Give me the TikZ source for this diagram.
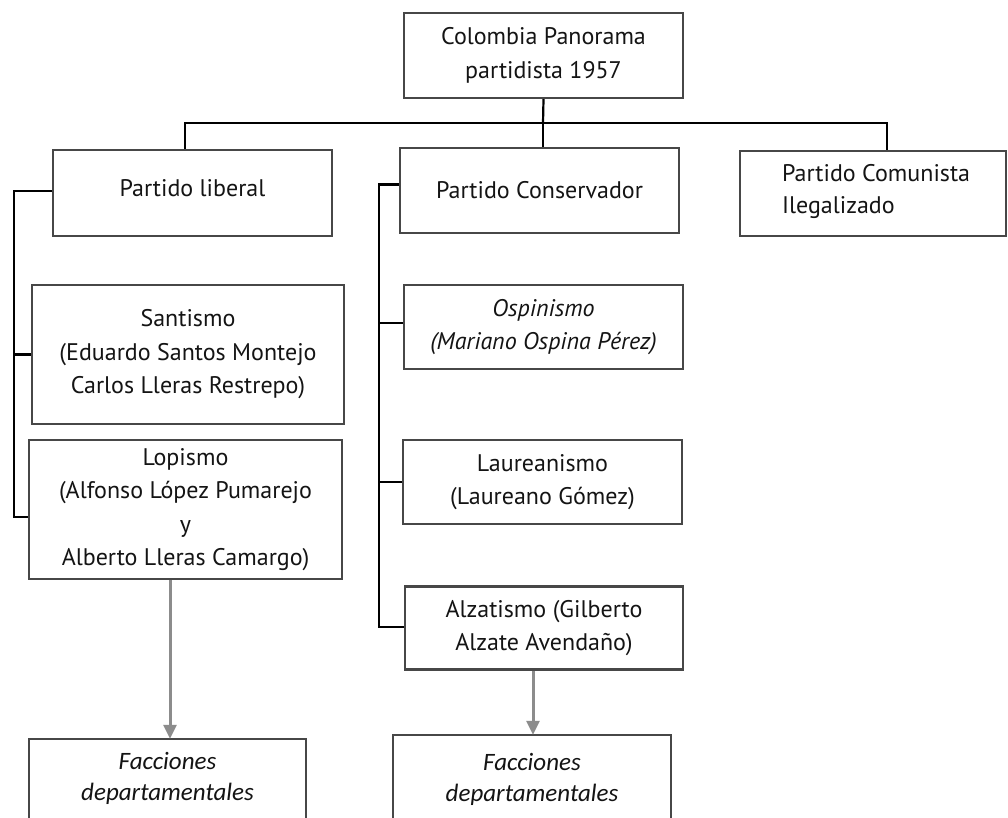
\documentclass[tikz,border=0pt]{standalone}
\usepackage{fontspec}
\setmainfont{PT Sans}
\newfontfamily\calfont{Carlito}
\usetikzlibrary{arrows.meta}
\begin{document}
\begin{tikzpicture}[x=1pt,y=-1pt,
  boxline/.style={draw=black!72, line width=2.2pt},
  box/.style={boxline, inner sep=0pt, align=center, text=black!92,
    font=\fontsize{24pt}{33.5pt}\selectfont},
  itbox/.style={box, font=\fontsize{24pt}{33.5pt}\selectfont\itshape},
  factext/.style={inner sep=0pt, align=center, text=black!92,
    font=\calfont\fontsize{25pt}{31pt}\selectfont\itshape},
  link/.style={line width=2.2pt, black},
  arr/.style={line width=3pt, black!45, -{Triangle[length=14pt,width=13pt]}}]
\useasboundingbox (0,0) rectangle (1008,818);
\fill[white] (0,0) rectangle (1008,818);

% boxes
\node[box, minimum width=279pt, minimum height=85pt] (top) at (543.5,55.5) {Colombia Panorama\\partidista 1957};
\node[box, minimum width=279pt, minimum height=86pt] (lib) at (192.5,193) {\raisebox{10pt}{Partido liberal}};
\node[box, minimum width=279pt, minimum height=85pt] (con) at (539.5,190.5) {Partido Conservador};
\node[box, minimum width=266pt, minimum height=85pt] (com) at (873,193.5) {};
\node[anchor=west, inner sep=0pt, align=left, text=black!92,
  font=\fontsize{24pt}{32pt}\selectfont] (comtxt) at ([xshift=43pt,yshift=2pt]com.west) {Partido Comunista\\Ilegalizado};

\node[box, minimum width=312pt, minimum height=139pt] (san) at (188,354.5) {Santismo\\(Eduardo Santos Montejo\\Carlos Lleras Restrepo)};
\node[box, minimum width=313pt, minimum height=139pt] (lop) at (185.5,509.5) {Lopismo\\(Alfonso López Pumarejo\\y\\Alberto Lleras Camargo)};

\node[itbox, minimum width=279pt, minimum height=84pt] (osp) at (543.5,327) {Ospinismo\\(Mariano Ospina Pérez)};
\node[box, minimum width=279pt, minimum height=84pt] (lau) at (542.5,482) {Laureanismo\\(Laureano Gómez)};
\node[box, minimum width=278pt, minimum height=83pt] (alz) at (544,628) {Alzatismo (Gilberto\\Alzate Avendaño)};

\node[factext, minimum width=277pt, minimum height=78pt] (fac1) at (167.5,778) {Facciones\\departamentales};
\node[factext, minimum width=278pt, minimum height=88pt] (fac2) at (532,779) {Facciones\\departamentales};
\draw[boxline] ([yshift=-30pt]fac1.south west) |- (fac1.north east) -- ([yshift=-30pt]fac1.south east);
\draw[boxline] ([yshift=-30pt]fac2.south west) |- (fac2.north east) -- ([yshift=-30pt]fac2.south east);

% top tree
\coordinate (hub) at (543,123);
\coordinate (hL) at (185,123);
\coordinate (hR) at (887,123);
\draw[link] (top.south) -- (hub);
\draw[link] (hL |- lib.north) -- (hL) -- (hR) -- (hR |- com.north);
\draw[link] (hub) -- (hub |- con.north);

% liberal bracket
\coordinate (bl) at (14,0);
\coordinate (libT) at ([yshift=2pt]lib.west);
\coordinate (lopT) at ([yshift=-7.5pt]lop.west);
\draw[link] (libT) -- (libT -| bl) -- (lopT -| bl) -- (lopT);
\draw[link] (san.west -| bl) -- (san.west);

% conservative bracket
\coordinate (bc) at (379,0);
\coordinate (conT) at ([yshift=6pt]con.west);
\coordinate (ospT) at ([yshift=4pt]osp.west);
\coordinate (alzT) at ([yshift=1pt]alz.west);
\draw[link] (conT) -- (conT -| bc) -- (alzT -| bc) -- (alzT);
\draw[link] (ospT -| bc) -- (ospT);
\draw[link] (lau.west -| bc) -- (lau.west);

% arrows
\coordinate (c1) at (170,0);
\coordinate (c2) at (533,0);
\draw[arr] (lop.south -| c1) -- (fac1.north -| c1);
\draw[arr] (alz.south -| c2) -- (fac2.north -| c2);
\end{tikzpicture}
\end{document}
